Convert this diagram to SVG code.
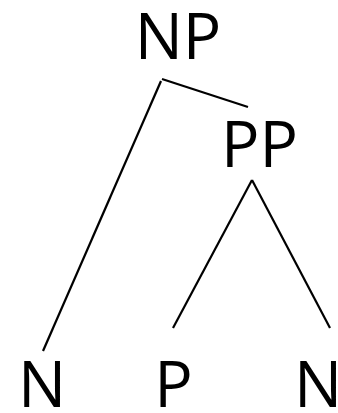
<svg xmlns="http://www.w3.org/2000/svg" width="338" height="413" viewBox="0 0 338 413">
<style>
text{font-family:"Open Sans","Noto Sans","Liberation Sans",sans-serif;font-size:64px;fill:#000;text-anchor:middle}
.e{stroke:#000;stroke-width:2.2;fill:none;stroke-linecap:butt}
</style>
<rect width="338" height="413" fill="#fff"/>
<g id="edges">
<line class="e" x1="162" y1="79" x2="248" y2="107"/>
<line class="e" x1="161" y1="81" x2="43" y2="351"/>
<line class="e" x1="252" y1="180" x2="173" y2="328"/>
<line class="e" x1="252" y1="180" x2="330" y2="328"/>
</g>
<g id="NP"><text x="178" y="59">NP</text></g>
<g id="PP"><text x="259.5" y="167">PP</text></g>
<g id="N1"><text x="42" y="407">N</text></g>
<g id="P"><text x="173.5" y="407">P</text></g>
<g id="N2"><text x="318" y="407">N</text></g>
</svg>
